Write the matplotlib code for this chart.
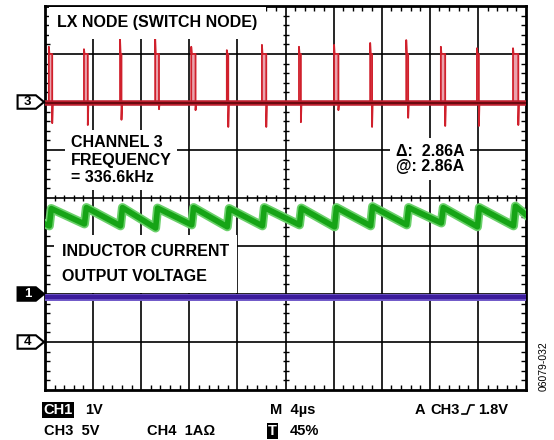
import matplotlib.pyplot as plt
from matplotlib.patches import Polygon
from matplotlib.lines import Line2D

plt.rcParams['font.family'] = ['Liberation Sans', 'DejaVu Sans']

# scope screen: 10 x 8 divisions, 4us/div
pulse_t = [0.08, 0.81, 1.56, 2.29, 3.04, 3.78, 4.51, 5.28, 6.01, 6.76, 7.51, 8.23, 8.98, 9.73]
pulse_w = [0.07, 0.08, 0.03, 0.08, 0.09, 0.03, 0.09, 0.04, 0.09, 0.04, 0.04, 0.09, 0.04, 0.11]
pulse_top = [7.15, 7.10, 7.30, 7.33, 7.15, 7.08, 7.19, 7.15, 7.19, 7.23, 7.29, 7.15, 7.12, 7.12]
spike_low = [5.56, 5.52, 5.63, 5.85, 5.83, 5.48, 5.48, 5.58, 5.83, 5.48, 5.67, 5.50, 5.50, 5.52]
ch3_level = 5.98

ind_start = 3.46
ind_peak = [3.78, 3.80, 3.80, 3.79, 3.80, 3.78, 3.80, 3.79, 3.80, 3.82, 3.80, 3.80, 3.80, 3.83]
ind_trough = [3.42, 3.46, 3.42, 3.375, 3.44, 3.40, 3.42, 3.44, 3.40, 3.42, 3.44, 3.48, 3.40, 3.42]
ind_end = 3.65

vout_level = 1.94

marker_ch = ['3', '1', '4']
marker_y = [6, 2, 1]

fig = plt.figure(figsize=(5.54, 4.4), dpi=100)
ax = fig.add_axes([45 / 554, 50 / 440, 481 / 554, 384 / 440])
ax.set_xlim(0, 10)
ax.set_ylim(0, 8)

for x in range(1, 10):
    ax.axvline(x, color='black', lw=1.2, zorder=1)
for y in range(1, 8):
    ax.axhline(y, color='black', lw=1.2, zorder=1)
for s in ax.spines.values():
    s.set_linewidth(2)

ax.set_xticks(range(11))
ax.set_yticks(range(9))
ax.set_xticks([i / 5 for i in range(51)], minor=True)
ax.set_yticks([i / 5 for i in range(41)], minor=True)
ax.tick_params(which='major', length=0, labelbottom=False, labelleft=False)
ax.tick_params(which='minor', direction='in', length=3.5, width=1, top=True, right=True)

# ticks on the centre cross
sub = [i / 5 for i in range(51) if i % 5]
ax.plot(sub, [4] * len(sub), ls='none', marker='|', ms=5, mew=1, color='black', zorder=1)
sub = [i / 5 for i in range(41) if i % 5]
ax.plot([5] * len(sub), sub, ls='none', marker='_', ms=5, mew=1, color='black', zorder=1)

# CH3 - switch node
rx = [0]
ry = [ch3_level]
for t, w, top, low in zip(pulse_t, pulse_w, pulse_top, spike_low):
    rx += [t, t, t + 0.012, t + w, t + w, t + w + 0.012]
    ry += [ch3_level, top, 7.0, 7.0, low, ch3_level]
    ax.fill_between([t, t + w], ch3_level, 7.0, color='#eaa2ac', lw=0, zorder=2)
rx.append(10)
ry.append(ch3_level)
ax.plot(rx, ry, color='#d0202c', lw=1.3, zorder=3)
ax.plot([0, 10], [ch3_level, ch3_level], color='#c02030', lw=4, zorder=3)
ax.plot([0, 10], [ch3_level, ch3_level], color='#6a0a10', lw=1.5, zorder=3)

# inductor current
gx = [0]
gy = [ind_start]
for i, t in enumerate(pulse_t):
    gx += [t + 0.01, t + 0.05]
    gy += [ind_trough[i], ind_peak[i]]
gx.append(10)
gy.append(ind_end)
ax.plot(gx, gy, color='#6ad06a', lw=6.5, zorder=3, solid_joinstyle='round')
ax.plot(gx, gy, color='#16a416', lw=4, zorder=3, solid_joinstyle='round')

# output voltage
ax.plot([0, 10], [vout_level, vout_level], color='#7058c8', lw=5, zorder=3)
ax.plot([0, 10], [vout_level, vout_level], color='#3c1c9c', lw=3, zorder=3)

# channel markers
for ch, y in zip(marker_ch, marker_y):
    filled = ch == '1'
    pts = [(-0.57, y - 0.14), (-0.19, y - 0.14), (-0.02, y), (-0.19, y + 0.14), (-0.57, y + 0.14)]
    ax.add_patch(Polygon(pts, closed=True, fc='black' if filled else 'white', ec='black',
                         lw=1.5, clip_on=False, zorder=5))
    ax.text(-0.36, y, ch, ha='center', va='center', fontsize=9.5, fontweight='bold',
            color='white' if filled else 'black', clip_on=False, zorder=6)


def ftext(x, y, s, **kw):
    opts = dict(fontsize=11.5, fontweight='bold', va='center', ha='left', zorder=10)
    opts.update(kw)
    return fig.text(x / 554, 1 - y / 440, s, **opts)


box = dict(fc='white', ec='none', pad=4)
ftext(57, 23, 'LX NODE (SWITCH NODE)', bbox=dict(fc='white', ec='none', pad=6))
ftext(71, 160, 'CHANNEL 3\nFREQUENCY\n= 336.6kHz', linespacing=1.2, bbox=box)
ftext(396, 159, 'Δ:  2.86A\n@: 2.86A', linespacing=1.05, bbox=box)
ftext(62, 264, 'INDUCTOR CURRENT\n\nOUTPUT VOLTAGE', linespacing=0.82,
      bbox=dict(fc='white', ec='none', pad=6))

# readout line
rs = 10.5
ftext(43, 410, 'CH1', color='white', fontsize=rs,
      bbox=dict(fc='black', ec='none', pad=1))
ftext(85, 410, '1V', fontsize=rs)
ftext(270, 410, 'M  4µs', fontsize=rs)
ftext(415, 410, 'A', fontsize=rs)
ftext(430, 410, 'CH3', fontsize=rs)
ftext(478, 410, '1.8V', fontsize=rs)
fig.add_artist(Line2D([462 / 554, 467 / 554, 470 / 554, 474 / 554],
                      [1 - 414 / 440, 1 - 414 / 440, 1 - 405 / 440, 1 - 405 / 440],
                      color='black', lw=1.2))
ftext(44, 431, 'CH3  5V', fontsize=rs)
ftext(147, 431, 'CH4  1AΩ', fontsize=rs)
ftext(268, 431, 'T', color='white', fontsize=rs,
      bbox=dict(fc='black', ec='none', pad=1))
ftext(290, 431, '45%', fontsize=rs)
ftext(544, 366, '06079-032', fontsize=7.5, fontweight='normal', rotation=90, ha='center')

fig.savefig('out.png', dpi=100)
